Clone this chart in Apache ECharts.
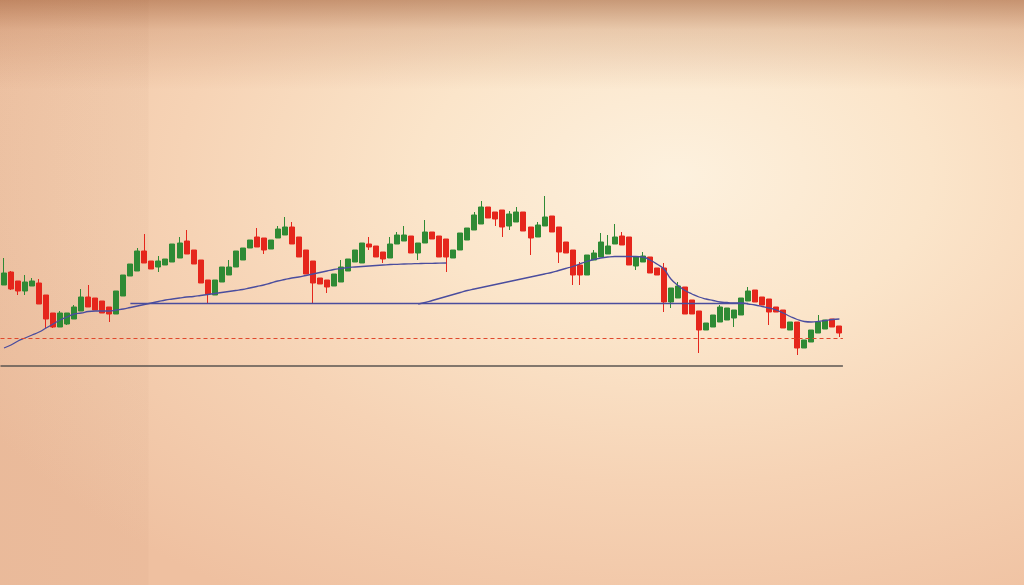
<!DOCTYPE html>
<html>
<head>
<meta charset="utf-8">
<script src="https://cdn.jsdelivr.net/npm/echarts@6/dist/echarts.min.js"></script>
<style>
html,body{margin:0;padding:0;width:1024px;height:585px;overflow:hidden;}
body{
  background:
    linear-gradient(to bottom, rgba(150,80,40,0.50) 0px, rgba(170,100,60,0.22) 30px, rgba(170,100,60,0) 90px),
    linear-gradient(to right, rgba(150,90,60,0.06) 0px, rgba(150,90,60,0.04) 148px, rgba(150,90,60,0) 149px),
    radial-gradient(ellipse 78% 85% at 66% 30%, #fdf1de 0%, #fbe5ca 32%, #f6d3b5 62%, #efc0a0 100%);
  background-color:#efc0a0;
}
#chart{width:1024px;height:585px;}
</style>
</head>
<body>
<div id="chart"></div>
<script>
// Candles: [open, close, low, high]
const categories = Array.from({length: 120}, (_, i) => 'D' + (i + 1));
const candles = [
[315,327,315,342],[328,311,310,329],[319,309,305,319],[309,318,305,325],[314,319,314,322],
[317,296,296,321],[305,281,272,305],[287,273,272,287],[273,287,273,289],[276,287,275,287],
[281,293,281,295],[289,303,289,311],[303,293,293,315],[302,290,290,302],[299,287,287,299],
[293,286,278,293],[286,309,286,309],[304,325,304,325],[324,336,324,336],[329,349,329,352],
[349,337,337,366],[339,331,331,339],[333,339,328,344],[335,341,335,341],[338,356,338,356],
[342,357,342,363],[359,346,346,370],[350,336,336,350],[340,317,317,340],[320,306,297,320],
[305,320,305,320],[318,333,318,333],[325,333,325,340],[333,349,333,349],[340,352,340,352],
[352,360,352,360],[363,353,353,372],[362,350,346,362],[351,360,351,360],[362,371,362,374],
[365,373,365,383],[373,356,356,378],[363,343,343,363],[350,326,326,350],[339,317,296,339],
[322,316,316,322],[320,313,307,320],[314,326,314,326],[318,333,318,340],[329,341,329,341],
[338,350,338,350],[337,357,337,357],[356,353,350,363],[354,343,343,354],[348,341,337,348],
[342,356,342,363],[356,365,356,368],[359,365,359,374],[364,347,347,364],[347,357,340,357],
[357,368,357,380],[368,361,361,368],[364,343,343,364],[361,343,328,361],[342,350,342,350],
[350,367,350,367],[360,372,360,372],[370,385,370,388],[376,393,376,399],[393,382,382,393],
[388,381,374,388],[390,373,363,390],[374,386,370,389],[378,388,378,393],[388,369,369,388],
[373,362,345,373],[363,375,363,378],[374,383,374,404],[384,368,368,384],[373,348,337,373],
[358,347,347,358],[350,325,315,350],[335,325,315,338],[325,345,325,345],[340,347,340,350],
[343,358,343,367],[346,354,346,365],[356,363,356,376],[364,355,355,368],[363,335,335,363],
[334,343,330,343],[338,344,338,348],[343,327,327,343],[332,325,325,332],[332,298,288,337],
[298,312,292,312],[302,314,302,318],[313,286,286,313],[300,286,286,300],[289,270,247,289],
[270,277,270,277],[273,285,273,285],[278,293,278,295],[280,292,280,292],[282,290,273,290],
[285,302,285,302],[299,309,299,313],[310,298,298,310],[303,295,295,303],[301,288,275,301],
[293,288,288,293],[290,272,272,290],[270,278,270,278],[278,252,245,278],[252,260,252,260],
[258,270,258,270],[267,278,267,285],[271,280,271,280],[281,273,273,281],[274,267,263,274]
];
// Moving-average style lines
const ma1Start = 0;
const ma1Values = [252,255,259,262,265,268,272,276,280,283,286,287,288.5,289,289,289,290,291,292.5,294,
295.5,297,298.5,300,301,302,303,303.5,304.5,305.5,306.5,307.5,308.5,309.5,310.5,312,313.5,315,317,319,
320.5,322,323,324.5,326,327.5,329,330.5,331.5,332.5,333,333.5,334,334.5,335,335.5,335.7,336,336.2,336.4,
336.6,336.7,336.8,337];
const ma2Start = 59;
const ma2Values = [296,297.5,299.5,301.5,303.5,305.5,307.5,309.5,311,312.5,314,315.5,317,318.5,320,321.5,
323,324.5,326,327.5,329.5,331.5,333.5,336,338.5,340.5,342,343,343.5,343.5,343.5,343.5,343,340,336,331,
321,314.5,309.5,306,303,301,299.5,298,297.5,297,297,296,295,293.5,292,290,287,283.5,280.5,278.5,278,
278.5,279.5,280.5,281];
// Horizontal reference levels
const supportLevel = 296.5, supportFrom = 18, supportTo = 106;
const dashedLevel = 262;
const baseLevel = 234;

function pad(start, vals){
  const out = new Array(categories.length).fill(null);
  vals.forEach((v,i)=>{ out[start+i] = v; });
  return out;
}

const chart = echarts.init(document.getElementById('chart'), null, {renderer:'canvas'});
const blue = '#4a4d9e';
chart.setOption({
  backgroundColor: 'transparent',
  animation: false,
  grid: {left: 0.5, top: 0, width: 842.4, bottom: 0},
  xAxis: {type:'category', data: categories, boundaryGap: true, show: false},
  yAxis: {type:'value', min: 15, max: 600, show: false, scale: true},
  series: [
    {
      type:'candlestick', data: candles, barWidth: 5.5,
      itemStyle: {color:'#2f8a35', color0:'#e5261c', borderColor:'#2f8a35', borderColor0:'#e5261c', borderWidth:1},
      markLine: {
        silent:true, symbol:['none','none'], label:{show:false},
        data: [
          {yAxis: dashedLevel, lineStyle:{color:'#e0482c', type:[4,3], width:1.2}},
          {yAxis: baseLevel, lineStyle:{color:'#5a5450', type:'solid', width:1.5}},
          [{coord:[supportFrom, supportLevel], lineStyle:{color:blue, width:1.3, type:'solid'}},
           {coord:[supportTo, supportLevel]}]
        ]
      }
    },
    {type:'line', data: pad(ma1Start, ma1Values), smooth: true, symbol:'none',
     lineStyle:{color: blue, width:1.3}, connectNulls:false},
    {type:'line', data: pad(ma2Start, ma2Values), smooth: true, symbol:'none',
     lineStyle:{color: blue, width:1.3}, connectNulls:false}
  ]
});
</script>
</body>
</html>
